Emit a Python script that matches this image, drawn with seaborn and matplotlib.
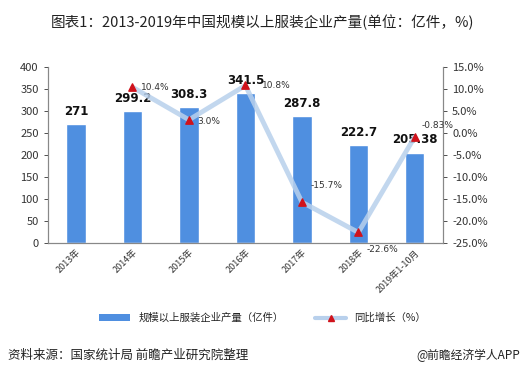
import matplotlib
matplotlib.use('Agg')
import matplotlib.pyplot as plt
import seaborn as sns
import pandas as pd
from matplotlib.lines import Line2D
from matplotlib.patches import Patch

# data
years = ['2013年', '2014年', '2015年', '2016年', '2017年', '2018年', '2019年1-10月']
output = [271, 299.2, 308.3, 341.5, 287.8, 222.7, 205.38]
output_labels = ['271', '299.2', '308.3', '341.5', '287.8', '222.7', '205.38']
growth_years = years[1:]
growth = [10.4, 3.0, 10.8, -15.7, -22.6, -0.83]
growth_labels = ['10.4%', '3.0%', '10.8%', '-15.7%', '-22.6%', '-0.83%']

sns.set_style('white')
plt.rcParams['font.family'] = ['Noto Sans CJK SC', 'DejaVu Sans']
plt.rcParams['axes.unicode_minus'] = False

BAR_COLOR = '#4f8fe0'
LINE_COLOR = '#b8d0ec'
MARK_COLOR = '#d0121b'

df_bar = pd.DataFrame({'year': years, 'output': output})
df_line = pd.DataFrame({'x': list(range(1, len(years))), 'growth': growth})

fig = plt.figure(figsize=(5.25, 3.8), dpi=100)
ax = fig.add_axes([0.091, 0.3605, 0.753, 0.4632])

sns.barplot(x='year', y='output', data=df_bar, color=BAR_COLOR, width=0.34,
            saturation=1, ax=ax)
ax.set_ylim(0, 400)
ax.set_yticks(range(0, 401, 50))
ax.set_xlabel('')
ax.set_ylabel('')
ax.tick_params(axis='y', labelsize=8, colors='#333333', length=3, width=0.6)
ax.tick_params(axis='x', labelsize=6.5, colors='#333333', length=0)
plt.setp(ax.get_xticklabels(), rotation=45, ha='right', rotation_mode='anchor')
for s in ['left', 'bottom', 'right']:
    ax.spines[s].set_color('#888888')
    ax.spines[s].set_linewidth(0.8)
ax.spines['top'].set_visible(False)

for i, (v, lab) in enumerate(zip(output, output_labels)):
    ax.text(i, v + 14, lab, ha='center', va='bottom', fontsize=8.5,
            fontweight='bold', color='#111111', family='DejaVu Sans')

ax2 = ax.twinx()
sns.lineplot(x='x', y='growth', data=df_line, color=LINE_COLOR, linewidth=3.5,
             alpha=0.85, ax=ax2)
ax2.scatter(df_line['x'], df_line['growth'], marker='^', s=28, color=MARK_COLOR,
            zorder=5)
ax2.set_ylim(-25, 15)
ax2.set_yticks(range(-25, 16, 5))
ax2.set_yticklabels([f'{t:.1f}%' for t in range(-25, 16, 5)])
ax2.set_ylabel('')
ax2.tick_params(axis='y', labelsize=8, colors='#333333', length=3, width=0.6)
for s in ['left', 'bottom', 'right']:
    ax2.spines[s].set_color('#888888')
    ax2.spines[s].set_linewidth(0.8)
ax2.spines['top'].set_visible(False)
ax.set_xlim(-0.5, len(years) - 0.5)

offsets = [(6, 0), (6, -1), (12, 0), (6, 12), (6, -12), (5, 8)]
for x, g, lab, off in zip(df_line['x'], growth, growth_labels, offsets):
    ax2.annotate(lab, (x, g), xytext=off, textcoords='offset points',
                 fontsize=6.5, color='#333333', va='center', ha='left',
                 family='DejaVu Sans')

fig.text(0.5, 0.94, '图表1：2013-2019年中国规模以上服装企业产量(单位：亿件，%)',
         ha='center', va='center', fontsize=10.5, color='#222222')

handles = [Patch(facecolor=BAR_COLOR, edgecolor='none'),
           Line2D([0], [0], color=LINE_COLOR, linewidth=3, marker='^',
                  markersize=4, markerfacecolor=MARK_COLOR,
                  markeredgecolor=MARK_COLOR)]
fig.legend(handles, ['规模以上服装企业产量（亿件）', '同比增长（%）'],
           loc='center', bbox_to_anchor=(0.5, 0.163), ncol=2, frameon=False,
           fontsize=7.5, handlelength=3, columnspacing=3)

fig.text(0.015, 0.065, '资料来源：国家统计局 前瞻产业研究院整理', ha='left',
         va='center', fontsize=9, color='#222222')
fig.text(0.99, 0.065, '@前瞻经济学人APP', ha='right', va='center',
         fontsize=8.5, color='#222222')

fig.savefig('out.png', dpi=100)
